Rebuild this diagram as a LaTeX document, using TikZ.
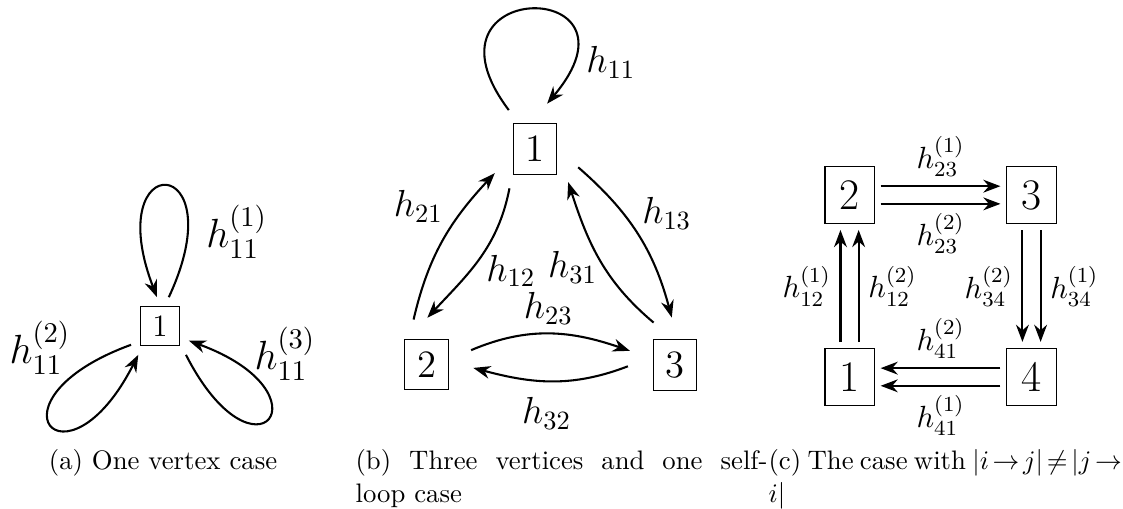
\RequirePackage{fix-cm}
\documentclass[tikz,border=0pt]{standalone}
\usepackage{amsmath, amssymb}
\usetikzlibrary{arrows.meta}

\begin{document}
\begin{tikzpicture}[>={Stealth},
    arr/.style={->, thick},
    vtxa/.style={draw, inner xsep=4.7pt, inner ysep=3.6pt, outer sep=3.5pt, font=\fontsize{12}{14}\selectfont},
    vtxb/.style={circle, inner sep=3.4pt, font=\fontsize{14.9}{17}\selectfont,
      execute at begin node={\setlength{\fboxsep}{4.5pt}}},
    vtxc/.style={draw, inner xsep=5.6pt, inner ysep=5.4pt, outer sep=2.5pt, font=\fontsize{16.8}{19}\selectfont},
    laba/.style={font=\fontsize{15.7}{18}\selectfont},
    labb/.style={font=\fontsize{14.5}{17}\selectfont},
    labc/.style={font=\fontsize{11.8}{14}\selectfont},
    capt/.style={inner sep=0pt, align=left, anchor=north west, font=\fontsize{10.3}{12.4}\selectfont}]
  \useasboundingbox (0,0) rectangle (15.195,6.874);

  % (a) one vertex
  \node[vtxa] (a1) at (2.165,2.463) {1};
  \draw[arr] (a1.73) to[out=65, in=111, min distance=62pt] (a1.96);
  \draw[arr] (a1.213) to[out=200, in=243, min distance=62pt] (a1.233);
  \draw[arr] (a1.312) to[out=297, in=340, min distance=59pt] (a1.333);
  \node[laba] (la1) at (3.203,3.739) {$h_{11}^{(1)}$};
  \node[laba] (la2) at (0.541,2.172) {$h_{11}^{(2)}$};
  \node[laba] (la3) at (3.856,2.093) {$h_{11}^{(3)}$};

  % (b) three vertices
  \node[vtxb] (b1) at (7.239,4.858) {\fbox{1}};
  \node[vtxb] (b2) at (5.771,1.94) {\fbox{2}};
  \node[vtxb] (b3) at (9.134,1.94) {\fbox{3}};
  \draw[arr] (b1.124) to[out=127, in=50, min distance=64pt] (b1.75);
  \draw[arr] (b2.106) to[out=77, in=227] (b1.211);
  \draw[arr] (b1.237) to[out=259, in=47] (b2.89);
  \draw[arr] (b1.337) to[out=319, in=105] (b3.94);
  \draw[arr] (b3.117) to[out=140, in=288] (b1.315);
  \draw[arr] (b2.18) to[out=23, in=161] (b3.163);
  \draw[arr] (b3.182) to[out=201, in=345] (b2.356);
  \node[labb] (lb11) at (8.265,6.028) {$h_{11}$};
  \node[labb] (lb21) at (5.660,4.077) {$h_{21}$};
  \node[labb] (lb12) at (6.912,3.210) {$h_{12}$};
  \node[labb] (lb13) at (9.021,3.988) {$h_{13}$};
  \node[labb] (lb31) at (7.747,3.254) {$h_{31}$};
  \node[labb] (lb23) at (7.419,2.702) {$h_{23}$};
  \node[labb] (lb32) at (7.397,1.281) {$h_{32}$};

  % (c) four vertices, double edges
  \node[vtxc] (c1) at (11.495,1.773) {1};
  \node[vtxc] (c2) at (11.495,4.235) {2};
  \node[vtxc] (c3) at (13.957,4.235) {3};
  \node[vtxc] (c4) at (13.957,1.773) {4};
  \draw[arr] ([yshift=3.4pt]c2.east) -- node[labc, above] (lc23a) {$h_{23}^{(1)}$} ([yshift=3.4pt]c3.west);
  \draw[arr] ([yshift=-3.4pt]c2.east) -- node[labc, below] (lc23b) {$h_{23}^{(2)}$} ([yshift=-3.4pt]c3.west);
  \draw[arr] ([xshift=-3.5pt]c3.south) -- node[labc, left] (lc34b) {$h_{34}^{(2)}$} ([xshift=-3.5pt]c4.north);
  \draw[arr] ([xshift=3.5pt]c3.south) -- node[labc, right] (lc34a) {$h_{34}^{(1)}$} ([xshift=3.5pt]c4.north);
  \draw[arr] ([yshift=3.4pt]c4.west) -- node[labc, above] (lc41b) {$h_{41}^{(2)}$} ([yshift=3.4pt]c1.east);
  \draw[arr] ([yshift=-3.4pt]c4.west) -- node[labc, below] (lc41a) {$h_{41}^{(1)}$} ([yshift=-3.4pt]c1.east);
  \draw[arr] ([xshift=-3.5pt]c1.north) -- node[labc, left] (lc12a) {$h_{12}^{(1)}$} ([xshift=-3.5pt]c2.south);
  \draw[arr] ([xshift=3.5pt]c1.north) -- node[labc, right] (lc12b) {$h_{12}^{(2)}$} ([xshift=3.5pt]c2.south);

  % captions
  \node[capt] (capa) at (0.654,0.794) {(a) One vertex case};
  \node[capt] (capb) at (4.804,0.794) {\makebox[158.6pt][s]{(b) Three vertices and one self-}\\loop case};
  \node[capt] (capc) at (10.392,0.794) {\thickmuskip=2.5mu\makebox[136pt][s]{(c) The case with $|i\to j|\neq|j\to$}\\$i|$};
\end{tikzpicture}
\end{document}
